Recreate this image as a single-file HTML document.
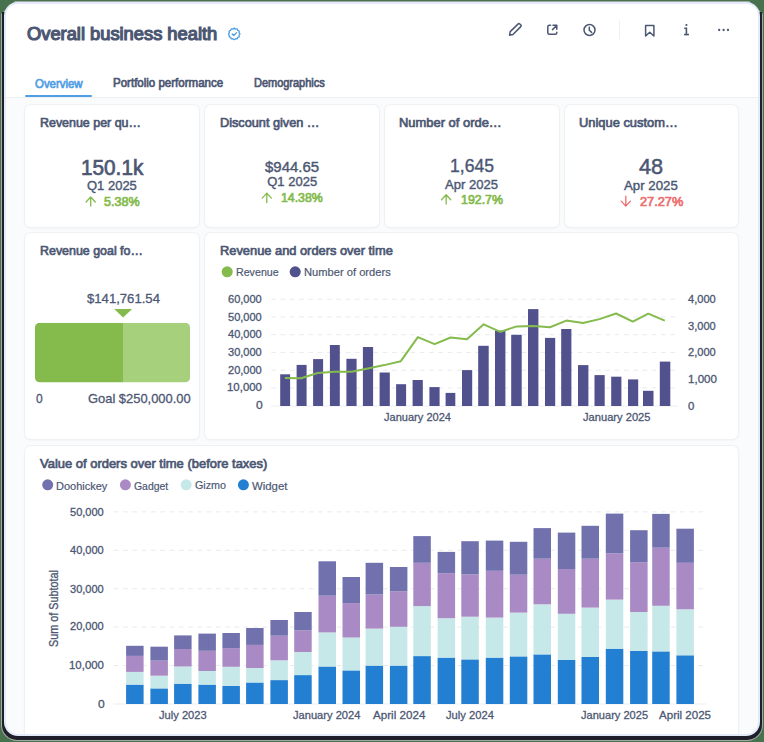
<!DOCTYPE html>
<html><head><meta charset="utf-8"><style>
*{margin:0;padding:0;box-sizing:border-box}
html,body{width:764px;height:742px;overflow:hidden;background:#48724e}
body{position:relative;font-family:"Liberation Sans",sans-serif}
.frame{position:absolute;left:1px;top:1px;width:762px;height:740px;border-radius:0 0 16px 16px;background:#a4a8a4;clip-path:polygon(14px 0,748px 0,762px 13px,762px 740px,0 740px,0 13px)}
.dark{position:absolute;left:2px;top:12px;width:760px;height:728px;border-radius:0 0 15px 15px;background:#1f1f2a}
.lb{position:absolute;left:4px;top:2px;width:756px;height:734px;border-radius:14px;background:#e3ebfa}
.win{position:absolute;left:6px;top:4px;width:752px;height:730px;border-radius:12px;background:#f9fbfc;overflow:hidden}
.hdr{position:absolute;left:0;top:0;width:752px;height:94px;background:#fff;border-bottom:1px solid #eeeff1}
.tab{position:absolute;left:19.2px;top:90.5px;width:67px;height:2.2px;background:#509ee3;border-radius:1px}
.card{position:absolute;background:#fff;border-radius:6px;box-shadow:0 0 0 1px #f0f1f3, 0 1px 3px rgba(0,0,0,0.06)}
.t{position:absolute;white-space:nowrap;line-height:1;transform-origin:0 0}
svg{position:absolute;left:0;top:0}
</style></head><body>
<div class="frame"></div><div class="dark"></div><div class="lb"></div>
<div class="win">
<div class="hdr"></div>
<div class="tab"></div>
<div class="card" style="left:19px;top:101px;width:174px;height:122px"></div>
<div class="card" style="left:199px;top:101px;width:174px;height:122px"></div>
<div class="card" style="left:379px;top:101px;width:174px;height:122px"></div>
<div class="card" style="left:559px;top:101px;width:173px;height:122px"></div>
<div class="card" style="left:19px;top:229px;width:174px;height:206px"></div>
<div class="card" style="left:199px;top:229px;width:533px;height:206px"></div>
<div class="card" style="left:19px;top:442px;width:713px;height:300px"></div>
</div>
<svg width="764" height="742" viewBox="0 0 764 742">
<line x1="271.3" y1="299.2" x2="676" y2="299.2" stroke="#e8eaed" stroke-width="1" stroke-dasharray="4.7 4.58"/>
<line x1="271.3" y1="316.9" x2="676" y2="316.9" stroke="#e8eaed" stroke-width="1" stroke-dasharray="4.7 4.58"/>
<line x1="271.3" y1="334.7" x2="676" y2="334.7" stroke="#e8eaed" stroke-width="1" stroke-dasharray="4.7 4.58"/>
<line x1="271.3" y1="352.4" x2="676" y2="352.4" stroke="#e8eaed" stroke-width="1" stroke-dasharray="4.7 4.58"/>
<line x1="271.3" y1="370.2" x2="676" y2="370.2" stroke="#e8eaed" stroke-width="1" stroke-dasharray="4.7 4.58"/>
<line x1="271.3" y1="387.9" x2="676" y2="387.9" stroke="#e8eaed" stroke-width="1" stroke-dasharray="4.7 4.58"/>
<line x1="271" y1="406" x2="678" y2="406" stroke="#eceef0" stroke-width="1"/>
<rect x="280.2" y="374.3" width="9.9" height="31.7" fill="#51528d"/>
<rect x="296.6" y="364.9" width="10.0" height="41.1" fill="#51528d"/>
<rect x="313.1" y="359.1" width="10.0" height="46.9" fill="#51528d"/>
<rect x="329.9" y="345.0" width="9.9" height="61.0" fill="#51528d"/>
<rect x="346.4" y="358.8" width="10.2" height="47.2" fill="#51528d"/>
<rect x="362.9" y="347.0" width="10.2" height="59.0" fill="#51528d"/>
<rect x="379.6" y="372.5" width="10.2" height="33.5" fill="#51528d"/>
<rect x="396.1" y="384.2" width="10.0" height="21.8" fill="#51528d"/>
<rect x="412.6" y="380.0" width="10.2" height="26.0" fill="#51528d"/>
<rect x="429.4" y="387.1" width="10.2" height="18.9" fill="#51528d"/>
<rect x="445.6" y="392.9" width="9.7" height="13.1" fill="#51528d"/>
<rect x="462.0" y="370.1" width="10.2" height="35.9" fill="#51528d"/>
<rect x="478.2" y="345.8" width="10.5" height="60.2" fill="#51528d"/>
<rect x="495.0" y="330.6" width="10.4" height="75.4" fill="#51528d"/>
<rect x="511.2" y="334.8" width="10.5" height="71.2" fill="#51528d"/>
<rect x="528.0" y="309.1" width="10.4" height="96.9" fill="#51528d"/>
<rect x="545.0" y="337.9" width="10.2" height="68.1" fill="#51528d"/>
<rect x="561.2" y="329.0" width="10.2" height="77.0" fill="#51528d"/>
<rect x="578.0" y="365.1" width="10.4" height="40.9" fill="#51528d"/>
<rect x="594.5" y="375.1" width="10.2" height="30.9" fill="#51528d"/>
<rect x="611.2" y="376.7" width="10.2" height="29.3" fill="#51528d"/>
<rect x="628.0" y="379.4" width="10.2" height="26.6" fill="#51528d"/>
<rect x="643.0" y="390.8" width="10.5" height="15.2" fill="#51528d"/>
<rect x="659.8" y="361.6" width="10.5" height="44.4" fill="#51528d"/>
<polyline points="284.9,378.0 301.1,378.2 317.6,373.0 334.6,371.7 351.6,371.7 367.9,368.5 384.3,365.1 400.8,361.2 417.9,337.1 434.6,344.2 450.6,337.5 467.0,339.2 483.7,324.3 500.2,331.9 516.7,326.4 533.5,326.1 550.0,327.2 566.4,320.6 583.0,323.0 599.5,319.1 616.1,313.5 632.8,321.6 648.3,313.7 664.8,320.6" fill="none" stroke="#84bb4c" stroke-width="2" stroke-linejoin="round"/>
<circle cx="227.2" cy="271.8" r="5.55" fill="#84bb4c"/>
<circle cx="295.2" cy="271.8" r="5.55" fill="#51528d"/>
<line x1="113.9" y1="511.9" x2="703" y2="511.9" stroke="#e8eaed" stroke-width="1" stroke-dasharray="4.7 4.58"/>
<line x1="113.9" y1="550.3" x2="703" y2="550.3" stroke="#e8eaed" stroke-width="1" stroke-dasharray="4.7 4.58"/>
<line x1="113.9" y1="588.7" x2="703" y2="588.7" stroke="#e8eaed" stroke-width="1" stroke-dasharray="4.7 4.58"/>
<line x1="113.9" y1="627.1" x2="703" y2="627.1" stroke="#e8eaed" stroke-width="1" stroke-dasharray="4.7 4.58"/>
<line x1="113.9" y1="665.5" x2="703" y2="665.5" stroke="#e8eaed" stroke-width="1" stroke-dasharray="4.7 4.58"/>
<line x1="113.5" y1="704" x2="706" y2="704" stroke="#eceef0" stroke-width="1"/>
<rect x="126.1" y="684.6" width="17.5" height="19.4" fill="#227fd2"/>
<rect x="126.1" y="671.9" width="17.5" height="12.7" fill="#c7e8e8"/>
<rect x="126.1" y="655.9" width="17.5" height="16.0" fill="#a98ac4"/>
<rect x="126.1" y="645.8" width="17.5" height="10.1" fill="#7172ad"/>
<rect x="150.4" y="688.4" width="17.5" height="15.6" fill="#227fd2"/>
<rect x="150.4" y="675.7" width="17.5" height="12.7" fill="#c7e8e8"/>
<rect x="150.4" y="660.6" width="17.5" height="15.1" fill="#a98ac4"/>
<rect x="150.4" y="646.7" width="17.5" height="13.9" fill="#7172ad"/>
<rect x="174.1" y="683.7" width="17.5" height="20.3" fill="#227fd2"/>
<rect x="174.1" y="666.5" width="17.5" height="17.2" fill="#c7e8e8"/>
<rect x="174.1" y="649.0" width="17.5" height="17.5" fill="#a98ac4"/>
<rect x="174.1" y="635.4" width="17.5" height="13.6" fill="#7172ad"/>
<rect x="198.4" y="684.6" width="17.5" height="19.4" fill="#227fd2"/>
<rect x="198.4" y="671.0" width="17.5" height="13.6" fill="#c7e8e8"/>
<rect x="198.4" y="650.8" width="17.5" height="20.2" fill="#a98ac4"/>
<rect x="198.4" y="633.6" width="17.5" height="17.2" fill="#7172ad"/>
<rect x="222.4" y="685.8" width="17.5" height="18.2" fill="#227fd2"/>
<rect x="222.4" y="666.8" width="17.5" height="19.0" fill="#c7e8e8"/>
<rect x="222.4" y="648.1" width="17.5" height="18.7" fill="#a98ac4"/>
<rect x="222.4" y="633.0" width="17.5" height="15.1" fill="#7172ad"/>
<rect x="246.1" y="682.5" width="17.5" height="21.5" fill="#227fd2"/>
<rect x="246.1" y="668.0" width="17.5" height="14.5" fill="#c7e8e8"/>
<rect x="246.1" y="644.9" width="17.5" height="23.1" fill="#a98ac4"/>
<rect x="246.1" y="628.0" width="17.5" height="16.9" fill="#7172ad"/>
<rect x="270.4" y="680.1" width="17.5" height="23.9" fill="#227fd2"/>
<rect x="270.4" y="660.3" width="17.5" height="19.8" fill="#c7e8e8"/>
<rect x="270.4" y="635.7" width="17.5" height="24.6" fill="#a98ac4"/>
<rect x="270.4" y="620.0" width="17.5" height="15.7" fill="#7172ad"/>
<rect x="294.2" y="675.1" width="17.5" height="28.9" fill="#227fd2"/>
<rect x="294.2" y="652.0" width="17.5" height="23.1" fill="#c7e8e8"/>
<rect x="294.2" y="630.4" width="17.5" height="21.6" fill="#a98ac4"/>
<rect x="294.2" y="612.0" width="17.5" height="18.4" fill="#7172ad"/>
<rect x="318.5" y="666.5" width="17.5" height="37.5" fill="#227fd2"/>
<rect x="318.5" y="632.4" width="17.5" height="34.1" fill="#c7e8e8"/>
<rect x="318.5" y="595.7" width="17.5" height="36.7" fill="#a98ac4"/>
<rect x="318.5" y="561.3" width="17.5" height="34.4" fill="#7172ad"/>
<rect x="342.5" y="670.4" width="17.5" height="33.6" fill="#227fd2"/>
<rect x="342.5" y="637.5" width="17.5" height="32.9" fill="#c7e8e8"/>
<rect x="342.5" y="603.1" width="17.5" height="34.4" fill="#a98ac4"/>
<rect x="342.5" y="577.0" width="17.5" height="26.1" fill="#7172ad"/>
<rect x="365.6" y="665.6" width="17.5" height="38.4" fill="#227fd2"/>
<rect x="365.6" y="628.6" width="17.5" height="37.0" fill="#c7e8e8"/>
<rect x="365.6" y="594.5" width="17.5" height="34.1" fill="#a98ac4"/>
<rect x="365.6" y="562.8" width="17.5" height="31.7" fill="#7172ad"/>
<rect x="389.9" y="665.6" width="17.5" height="38.4" fill="#227fd2"/>
<rect x="389.9" y="626.8" width="17.5" height="38.8" fill="#c7e8e8"/>
<rect x="389.9" y="591.3" width="17.5" height="35.5" fill="#a98ac4"/>
<rect x="389.9" y="567.0" width="17.5" height="24.3" fill="#7172ad"/>
<rect x="413.3" y="656.1" width="17.5" height="47.9" fill="#227fd2"/>
<rect x="413.3" y="606.1" width="17.5" height="50.0" fill="#c7e8e8"/>
<rect x="413.3" y="562.8" width="17.5" height="43.3" fill="#a98ac4"/>
<rect x="413.3" y="536.1" width="17.5" height="26.7" fill="#7172ad"/>
<rect x="437.6" y="657.6" width="17.5" height="46.4" fill="#227fd2"/>
<rect x="437.6" y="618.2" width="17.5" height="39.4" fill="#c7e8e8"/>
<rect x="437.6" y="573.2" width="17.5" height="45.0" fill="#a98ac4"/>
<rect x="437.6" y="551.9" width="17.5" height="21.3" fill="#7172ad"/>
<rect x="461.3" y="659.4" width="17.5" height="44.6" fill="#227fd2"/>
<rect x="461.3" y="616.7" width="17.5" height="42.7" fill="#c7e8e8"/>
<rect x="461.3" y="574.4" width="17.5" height="42.3" fill="#a98ac4"/>
<rect x="461.3" y="541.2" width="17.5" height="33.2" fill="#7172ad"/>
<rect x="485.8" y="657.6" width="17.5" height="46.4" fill="#227fd2"/>
<rect x="485.8" y="617.6" width="17.5" height="40.0" fill="#c7e8e8"/>
<rect x="485.8" y="570.8" width="17.5" height="46.8" fill="#a98ac4"/>
<rect x="485.8" y="540.6" width="17.5" height="30.2" fill="#7172ad"/>
<rect x="509.8" y="656.4" width="17.5" height="47.6" fill="#227fd2"/>
<rect x="509.8" y="612.6" width="17.5" height="43.8" fill="#c7e8e8"/>
<rect x="509.8" y="574.7" width="17.5" height="37.9" fill="#a98ac4"/>
<rect x="509.8" y="541.8" width="17.5" height="32.9" fill="#7172ad"/>
<rect x="533.5" y="654.4" width="17.5" height="49.6" fill="#227fd2"/>
<rect x="533.5" y="604.3" width="17.5" height="50.1" fill="#c7e8e8"/>
<rect x="533.5" y="558.7" width="17.5" height="45.6" fill="#a98ac4"/>
<rect x="533.5" y="528.1" width="17.5" height="30.6" fill="#7172ad"/>
<rect x="557.8" y="660.0" width="17.5" height="44.0" fill="#227fd2"/>
<rect x="557.8" y="613.8" width="17.5" height="46.2" fill="#c7e8e8"/>
<rect x="557.8" y="569.0" width="17.5" height="44.8" fill="#a98ac4"/>
<rect x="557.8" y="532.6" width="17.5" height="36.4" fill="#7172ad"/>
<rect x="581.5" y="657.0" width="17.5" height="47.0" fill="#227fd2"/>
<rect x="581.5" y="607.6" width="17.5" height="49.4" fill="#c7e8e8"/>
<rect x="581.5" y="558.7" width="17.5" height="48.9" fill="#a98ac4"/>
<rect x="581.5" y="525.8" width="17.5" height="32.9" fill="#7172ad"/>
<rect x="605.8" y="648.7" width="17.5" height="55.3" fill="#227fd2"/>
<rect x="605.8" y="599.6" width="17.5" height="49.1" fill="#c7e8e8"/>
<rect x="605.8" y="553.3" width="17.5" height="46.3" fill="#a98ac4"/>
<rect x="605.8" y="513.6" width="17.5" height="39.7" fill="#7172ad"/>
<rect x="630.1" y="650.8" width="17.5" height="53.2" fill="#227fd2"/>
<rect x="630.1" y="612.0" width="17.5" height="38.8" fill="#c7e8e8"/>
<rect x="630.1" y="562.2" width="17.5" height="49.8" fill="#a98ac4"/>
<rect x="630.1" y="530.2" width="17.5" height="32.0" fill="#7172ad"/>
<rect x="652.2" y="651.4" width="17.5" height="52.6" fill="#227fd2"/>
<rect x="652.2" y="605.8" width="17.5" height="45.6" fill="#c7e8e8"/>
<rect x="652.2" y="547.7" width="17.5" height="58.1" fill="#a98ac4"/>
<rect x="652.2" y="513.9" width="17.5" height="33.8" fill="#7172ad"/>
<rect x="676.4" y="655.3" width="17.5" height="48.7" fill="#227fd2"/>
<rect x="676.4" y="609.3" width="17.5" height="46.0" fill="#c7e8e8"/>
<rect x="676.4" y="562.8" width="17.5" height="46.5" fill="#a98ac4"/>
<rect x="676.4" y="528.7" width="17.5" height="34.1" fill="#7172ad"/>
<circle cx="47.7" cy="484.8" r="5.5" fill="#7172ad"/>
<circle cx="125.4" cy="484.8" r="5.5" fill="#a98ac4"/>
<circle cx="186.2" cy="484.8" r="5.5" fill="#c7e8e8"/>
<circle cx="243.4" cy="484.8" r="5.5" fill="#227fd2"/>
<clipPath id="gb"><rect x="34.9" y="322.8" width="155.2" height="59.7" rx="5"/></clipPath>
<g clip-path="url(#gb)"><rect x="34.9" y="322.8" width="88.1" height="59.7" fill="#84bb4c"/><rect x="123" y="322.8" width="67.1" height="59.7" fill="#a7d07c"/></g>
<path d="M114.2 308.9 L132.1 308.9 L123.1 317.4 Z" fill="#84bb4c"/>
<g fill="none" stroke="#4c5773" stroke-width="1.5" stroke-linejoin="round" stroke-linecap="round"><path d="M509.6 35.2 L510.2 31.6 L518.2 23.9 Q519 23.2 519.8 24 L520.9 25.1 Q521.6 25.9 520.8 26.6 L512.9 34.5 Z"/><path d="M550.6 25.35 L549.3 25.35 Q547.8 25.35 547.8 26.85 L547.8 32.8 Q547.8 34.3 549.3 34.3 L555.3 34.3 Q556.8 34.3 556.8 32.8 L556.8 32.2"/><path d="M552.5 29.6 L556.6 25.5 M553 25.35 L556.8 25.35 L556.8 29.2"/><circle cx="589.5" cy="30" r="5.5"/><path d="M589.3 27.2 L589.3 30.2 L591.6 32.4"/><path d="M645.6 25.4 L653.9 25.4 L653.9 36 L649.75 32.2 L645.6 36 Z"/></g>
<line x1="619.5" y1="20.6" x2="619.5" y2="39.3" stroke="#eeeff1" stroke-width="1"/>
<g fill="#4c5773"><circle cx="686.4" cy="25" r="1.1"/><rect x="685.6" y="27.6" width="1.6" height="7.6"/><rect x="684" y="33.8" width="5" height="1.5"/><rect x="684.2" y="27.6" width="2.5" height="1.4"/><circle cx="719.2" cy="30" r="1.15"/><circle cx="723.6" cy="30" r="1.15"/><circle cx="728" cy="30" r="1.15"/></g>
<g fill="none" stroke="#509ee3" stroke-width="1.3" stroke-linecap="round" stroke-linejoin="round"><polygon points="240.00,33.90 239.50,34.60 238.93,35.17 239.14,35.95 239.22,36.80 238.44,37.16 237.66,37.36 237.46,38.14 237.10,38.92 236.25,38.84 235.47,38.63 234.90,39.20 234.20,39.70 233.50,39.20 232.93,38.63 232.15,38.84 231.30,38.92 230.94,38.14 230.74,37.36 229.96,37.16 229.18,36.80 229.26,35.95 229.47,35.17 228.90,34.60 228.40,33.90 228.90,33.20 229.47,32.63 229.26,31.85 229.18,31.00 229.96,30.64 230.74,30.44 230.94,29.66 231.30,28.88 232.15,28.96 232.93,29.17 233.50,28.60 234.20,28.10 234.90,28.60 235.47,29.17 236.25,28.96 237.10,28.88 237.46,29.66 237.66,30.44 238.44,30.64 239.22,31.00 239.14,31.85 238.93,32.63 239.50,33.20"/><path d="M232.2 34 L233.7 35.5 L236.6 32.6"/></g>
<path d="M90.7 206.0 L90.7 197.29999999999998 M86.10000000000001 202.0 L90.7 197.0 L95.3 202.0" fill="none" stroke="#84bb4c" stroke-width="1.3" stroke-linecap="round" stroke-linejoin="round"/>
<path d="M266.8 202.6 L266.8 193.4 M262.2 198.10000000000002 L266.8 193.10000000000002 L271.40000000000003 198.10000000000002" fill="none" stroke="#84bb4c" stroke-width="1.3" stroke-linecap="round" stroke-linejoin="round"/>
<path d="M446.15 204.0 L446.15 195.0 M441.54999999999995 199.70000000000002 L446.15 194.70000000000002 L450.75 199.70000000000002" fill="none" stroke="#84bb4c" stroke-width="1.3" stroke-linecap="round" stroke-linejoin="round"/>
<path d="M625.8 196.1 L625.8 205.8 M621.1999999999999 201.1 L625.8 206.1 L630.4 201.1" fill="none" stroke="#ed6e6e" stroke-width="1.3" stroke-linecap="round" stroke-linejoin="round"/>
</svg>
<div class="t" style="left:26.60px;top:26.02px;font-size:17.8px;color:#4c5773;transform:scaleX(1.0292);-webkit-text-stroke:1.2px currentColor">Overall business health</div>
<div class="t" style="left:34.76px;top:77.55px;font-size:12px;color:#509ee3;transform:scaleX(0.9516);-webkit-text-stroke:0.7px currentColor">Overview</div>
<div class="t" style="left:113.42px;top:76.83px;font-size:12px;color:#4c5773;transform:scaleX(0.9601);-webkit-text-stroke:0.7px currentColor">Portfolio performance</div>
<div class="t" style="left:253.70px;top:76.83px;font-size:12px;color:#4c5773;transform:scaleX(0.9142);-webkit-text-stroke:0.7px currentColor">Demographics</div>
<div class="t" style="left:39.68px;top:115.66px;font-size:13px;color:#4c5773;transform:scaleX(0.9566);-webkit-text-stroke:0.7px currentColor">Revenue per qu…</div>
<div class="t" style="left:219.68px;top:115.66px;font-size:13px;color:#4c5773;transform:scaleX(0.9772);-webkit-text-stroke:0.7px currentColor">Discount given …</div>
<div class="t" style="left:398.82px;top:116.28px;font-size:13px;color:#4c5773;transform:scaleX(0.9946);-webkit-text-stroke:0.7px currentColor">Number of orde…</div>
<div class="t" style="left:578.68px;top:115.66px;font-size:13px;color:#4c5773;transform:scaleX(0.9906);-webkit-text-stroke:0.7px currentColor">Unique custom…</div>
<div class="t" style="left:80.82px;top:157.72px;font-size:21.5px;color:#4c5773;transform:scaleX(0.9650);-webkit-text-stroke:0.7px currentColor">150.1k</div>
<div class="t" style="left:87.24px;top:179.24px;font-size:13px;color:#4c5773;transform:scaleX(0.9992);-webkit-text-stroke:0.4px currentColor">Q1 2025</div>
<div class="t" style="left:104.42px;top:195.28px;font-size:13px;color:#84bb4c;transform:scaleX(0.9653);-webkit-text-stroke:0.7px currentColor">5.38%</div>
<div class="t" style="left:265.00px;top:160.37px;font-size:14.7px;color:#4c5773;transform:scaleX(1.0177);-webkit-text-stroke:0.4px currentColor">$944.65</div>
<div class="t" style="left:267.24px;top:175.42px;font-size:13px;color:#4c5773;transform:scaleX(1.0000);-webkit-text-stroke:0.4px currentColor">Q1 2025</div>
<div class="t" style="left:281.00px;top:191.46px;font-size:13px;color:#84bb4c;transform:scaleX(0.9469);-webkit-text-stroke:0.7px currentColor">14.38%</div>
<div class="t" style="left:449.71px;top:157.49px;font-size:18.6px;color:#4c5773;transform:scaleX(0.9443);-webkit-text-stroke:0.4px currentColor">1,645</div>
<div class="t" style="left:444.54px;top:177.60px;font-size:13px;color:#4c5773;transform:scaleX(1.0038);-webkit-text-stroke:0.4px currentColor">Apr 2025</div>
<div class="t" style="left:460.76px;top:192.82px;font-size:13px;color:#84bb4c;transform:scaleX(0.9524);-webkit-text-stroke:0.7px currentColor">192.7%</div>
<div class="t" style="left:639.45px;top:156.41px;font-size:21.8px;color:#4c5773;transform:scaleX(0.9950);-webkit-text-stroke:0.5px currentColor">48</div>
<div class="t" style="left:624.24px;top:179.42px;font-size:13px;color:#4c5773;transform:scaleX(1.0189);-webkit-text-stroke:0.4px currentColor">Apr 2025</div>
<div class="t" style="left:639.60px;top:195.30px;font-size:13px;color:#ed6e6e;transform:scaleX(0.9810);-webkit-text-stroke:0.7px currentColor">27.27%</div>
<div class="t" style="left:39.68px;top:244.42px;font-size:13px;color:#4c5773;transform:scaleX(0.9554);-webkit-text-stroke:0.7px currentColor">Revenue goal fo…</div>
<div class="t" style="left:86.76px;top:291.62px;font-size:13px;color:#4c5773;transform:scaleX(1.0089);-webkit-text-stroke:0.3px currentColor">$141,761.54</div>
<div class="t" style="left:35.54px;top:392.34px;font-size:13px;color:#4c5773;transform:scaleX(0.9250);-webkit-text-stroke:0.3px currentColor">0</div>
<div class="t" style="left:87.82px;top:391.62px;font-size:13px;color:#4c5773;transform:scaleX(0.9928);-webkit-text-stroke:0.3px currentColor">Goal $250,000.00</div>
<div class="t" style="left:219.56px;top:244.46px;font-size:13px;color:#4c5773;transform:scaleX(0.9880);-webkit-text-stroke:0.7px currentColor">Revenue and orders over time</div>
<div class="t" style="left:236.30px;top:266.80px;font-size:11.8px;color:#4c5773;transform:scaleX(0.9034);-webkit-text-stroke:0.2px currentColor">Revenue</div>
<div class="t" style="left:303.50px;top:266.80px;font-size:11.8px;color:#4c5773;transform:scaleX(0.9453);-webkit-text-stroke:0.2px currentColor">Number of orders</div>
<div class="t" style="left:228.43px;top:293.68px;font-size:11.3px;color:#4c5773;transform:scaleX(0.9771);-webkit-text-stroke:0.3px currentColor">60,000</div>
<div class="t" style="left:228.43px;top:311.54px;font-size:11.3px;color:#4c5773;transform:scaleX(0.9771);-webkit-text-stroke:0.3px currentColor">50,000</div>
<div class="t" style="left:228.43px;top:329.48px;font-size:11.3px;color:#4c5773;transform:scaleX(0.9771);-webkit-text-stroke:0.3px currentColor">40,000</div>
<div class="t" style="left:228.43px;top:346.50px;font-size:11.3px;color:#4c5773;transform:scaleX(0.9771);-webkit-text-stroke:0.3px currentColor">30,000</div>
<div class="t" style="left:228.43px;top:364.68px;font-size:11.3px;color:#4c5773;transform:scaleX(0.9771);-webkit-text-stroke:0.3px currentColor">20,000</div>
<div class="t" style="left:227.43px;top:382.32px;font-size:11.3px;color:#4c5773;transform:scaleX(1.0118);-webkit-text-stroke:0.3px currentColor">10,000</div>
<div class="t" style="left:255.72px;top:400.36px;font-size:11.3px;color:#4c5773;transform:scaleX(1.0673);-webkit-text-stroke:0.3px currentColor">0</div>
<div class="t" style="left:688.38px;top:293.74px;font-size:11.3px;color:#4c5773;transform:scaleX(0.9802);-webkit-text-stroke:0.3px currentColor">4,000</div>
<div class="t" style="left:688.38px;top:320.63px;font-size:11.3px;color:#4c5773;transform:scaleX(0.9802);-webkit-text-stroke:0.3px currentColor">3,000</div>
<div class="t" style="left:688.38px;top:347.12px;font-size:11.3px;color:#4c5773;transform:scaleX(0.9802);-webkit-text-stroke:0.3px currentColor">2,000</div>
<div class="t" style="left:687.58px;top:373.61px;font-size:11.3px;color:#4c5773;transform:scaleX(1.0226);-webkit-text-stroke:0.3px currentColor">1,000</div>
<div class="t" style="left:688.38px;top:400.66px;font-size:11.3px;color:#4c5773;transform:scaleX(1.0112);-webkit-text-stroke:0.3px currentColor">0</div>
<div class="t" style="left:384.46px;top:411.61px;font-size:11.5px;color:#4c5773;transform:scaleX(0.9613);-webkit-text-stroke:0.3px currentColor">January 2024</div>
<div class="t" style="left:582.58px;top:411.61px;font-size:11.5px;color:#4c5773;transform:scaleX(0.9679);-webkit-text-stroke:0.3px currentColor">January 2025</div>
<div class="t" style="left:40.32px;top:457.42px;font-size:13px;color:#4c5773;transform:scaleX(0.9968);-webkit-text-stroke:0.7px currentColor">Value of orders over time (before taxes)</div>
<div class="t" style="left:56.26px;top:480.62px;font-size:11.8px;color:#4c5773;transform:scaleX(0.9325);-webkit-text-stroke:0.2px currentColor">Doohickey</div>
<div class="t" style="left:134.46px;top:480.62px;font-size:11.8px;color:#4c5773;transform:scaleX(0.8848);-webkit-text-stroke:0.2px currentColor">Gadget</div>
<div class="t" style="left:195.42px;top:480.28px;font-size:11.8px;color:#4c5773;transform:scaleX(0.9103);-webkit-text-stroke:0.2px currentColor">Gizmo</div>
<div class="t" style="left:252.46px;top:480.62px;font-size:11.8px;color:#4c5773;transform:scaleX(0.9646);-webkit-text-stroke:0.2px currentColor">Widget</div>
<div class="t" style="left:70.35px;top:506.50px;font-size:11.3px;color:#4c5773;transform:scaleX(0.9771);-webkit-text-stroke:0.3px currentColor">50,000</div>
<div class="t" style="left:70.35px;top:545.12px;font-size:11.3px;color:#4c5773;transform:scaleX(0.9771);-webkit-text-stroke:0.3px currentColor">40,000</div>
<div class="t" style="left:70.35px;top:583.54px;font-size:11.3px;color:#4c5773;transform:scaleX(0.9771);-webkit-text-stroke:0.3px currentColor">30,000</div>
<div class="t" style="left:70.35px;top:621.46px;font-size:11.3px;color:#4c5773;transform:scaleX(0.9771);-webkit-text-stroke:0.3px currentColor">20,000</div>
<div class="t" style="left:69.45px;top:660.48px;font-size:11.3px;color:#4c5773;transform:scaleX(1.0118);-webkit-text-stroke:0.3px currentColor">10,000</div>
<div class="t" style="left:98.34px;top:699.18px;font-size:11.3px;color:#4c5773;transform:scaleX(1.0673);-webkit-text-stroke:0.3px currentColor">0</div>
<div class="t" style="left:158.82px;top:709.75px;font-size:11.5px;color:#4c5773;transform:scaleX(0.9679);-webkit-text-stroke:0.3px currentColor">July 2023</div>
<div class="t" style="left:293.24px;top:709.75px;font-size:11.5px;color:#4c5773;transform:scaleX(0.9670);-webkit-text-stroke:0.3px currentColor">January 2024</div>
<div class="t" style="left:372.58px;top:709.75px;font-size:11.5px;color:#4c5773;transform:scaleX(1.0108);-webkit-text-stroke:0.3px currentColor">April 2024</div>
<div class="t" style="left:445.82px;top:709.75px;font-size:11.5px;color:#4c5773;transform:scaleX(0.9720);-webkit-text-stroke:0.3px currentColor">July 2024</div>
<div class="t" style="left:581.24px;top:709.75px;font-size:11.5px;color:#4c5773;transform:scaleX(0.9618);-webkit-text-stroke:0.3px currentColor">January 2025</div>
<div class="t" style="left:659.18px;top:709.75px;font-size:11.5px;color:#4c5773;transform:scaleX(1.0046);-webkit-text-stroke:0.3px currentColor">April 2025</div>
<div class="t" style="left:47.72px;top:646.5px;font-size:12px;font-weight:400;color:#4c5773;transform:rotate(-90deg) scaleX(0.9016);-webkit-text-stroke:0.3px currentColor">Sum of Subtotal</div>
</body></html>
